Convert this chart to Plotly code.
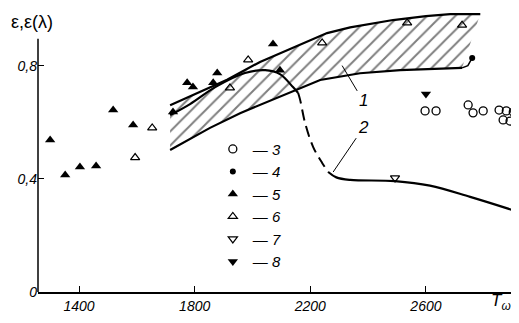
import plotly.graph_objects as go

# ---- data ----
band_up_x = [1715, 1800, 1912, 2026, 2140, 2258, 2338, 2486, 2600, 2684, 2788]
band_up_y = [0.66, 0.70, 0.75, 0.813, 0.863, 0.915, 0.935, 0.961, 0.975, 0.982, 0.982]
band_lo_x = [1715, 1853, 1957, 2095, 2234, 2372, 2511, 2725]
band_lo_y = [0.502, 0.58, 0.632, 0.689, 0.749, 0.773, 0.784, 0.792]
hook_x = [2725, 2745, 2760]
hook_y = [0.792, 0.80, 0.827]

c2a_x = [1715, 1784, 1871, 1974, 2044, 2095, 2140, 2158]
c2a_y = [0.625, 0.664, 0.724, 0.774, 0.784, 0.770, 0.724, 0.703]
c2d_x = [2158, 2165, 2182, 2210, 2241, 2262]
c2d_y = [0.703, 0.678, 0.597, 0.512, 0.456, 0.424]
c2b_x = [2262, 2290, 2338, 2493, 2614, 2753, 2898]
c2b_y = [0.424, 0.405, 0.396, 0.392, 0.376, 0.336, 0.29]

s3_x = [2597, 2635, 2746, 2763, 2798, 2853, 2878, 2902, 2867, 2891]
s3_y = [0.64, 0.64, 0.661, 0.633, 0.64, 0.643, 0.64, 0.636, 0.608, 0.604]
s4_x = [2760]
s4_y = [0.827]
s5_x = [1300, 1352, 1403, 1459, 1518, 1587, 1725, 1774, 1794, 1864, 1878, 2071, 2095]
s5_y = [0.537, 0.413, 0.442, 0.445, 0.643, 0.590, 0.636, 0.739, 0.724, 0.739, 0.774, 0.876, 0.784]
s6_x = [1594, 1653, 1922, 1985, 2241, 2535, 2725]
s6_y = [0.475, 0.580, 0.721, 0.820, 0.880, 0.951, 0.943]
s7_x = [2493]
s7_y = [0.403]
s8_x = [2600]
s8_y = [0.70]

x_ticks = [1400, 1800, 2200, 2600]
y_ticks = [0, 0.4, 0.8]
y_ticktext = ["0", "0,4", "0,8"]

FONT = "Liberation Sans"
fig = go.Figure()

# hatched band (curve 1)
fig.add_trace(go.Scatter(
    x=band_up_x + band_lo_x[::-1], y=band_up_y + band_lo_y[::-1],
    fill="toself", mode="none", fillcolor="rgba(0,0,0,0)",
    fillpattern=dict(shape="/", fgcolor="black", bgcolor="white", size=10, solidity=0.2),
    showlegend=False, hoverinfo="skip"))
line_style = dict(color="black", width=2.2)
fig.add_trace(go.Scatter(x=band_up_x, y=band_up_y, mode="lines", line=line_style, showlegend=False))
fig.add_trace(go.Scatter(x=band_lo_x, y=band_lo_y, mode="lines", line=line_style, showlegend=False))
fig.add_trace(go.Scatter(x=hook_x, y=hook_y, mode="lines", line=dict(color="black", width=1.5), showlegend=False))
# curve 2
fig.add_trace(go.Scatter(x=c2a_x, y=c2a_y, mode="lines", line=line_style, line_shape="spline", showlegend=False))
fig.add_trace(go.Scatter(x=c2d_x, y=c2d_y, mode="lines", line=dict(color="black", width=2, dash="11px,6px"),
                         line_shape="spline", showlegend=False))
fig.add_trace(go.Scatter(x=c2b_x, y=c2b_y, mode="lines", line=line_style, line_shape="spline", showlegend=False))

# point series (legend entries)
series = [
    ("3", s3_x, s3_y, "circle-open", 8, 1.3),
    ("4", s4_x, s4_y, "circle", 6, 0),
    ("5", s5_x, s5_y, "triangle-up", 9, 0),
    ("6", s6_x, s6_y, "triangle-up-open", 8, 1.2),
    ("7", s7_x, s7_y, "triangle-down-open", 8, 1.2),
    ("8", s8_x, s8_y, "triangle-down", 9, 0),
]
for name, xs, ys, sym, sz, lw in series:
    fig.add_trace(go.Scatter(x=xs, y=ys, mode="markers", name="— " + name, legendgroup=name,
                             marker=dict(symbol=sym, size=sz, color="black", line=dict(color="black", width=lw))))

# the page adds an 8px body margin, so the figure is 8px smaller and shifted
fig.update_layout(
    width=511, height=315,
    margin=dict(l=30, r=2, t=1, b=31),
    paper_bgcolor="white", plot_bgcolor="white",
    font=dict(family=FONT, color="black"),
    legend=dict(x=0.365, y=0.563, xanchor="left", yanchor="top", bgcolor="rgba(0,0,0,0)",
                font=dict(size=15, style="italic", family=FONT), tracegroupgap=0,
                itemwidth=30),
    xaxis=dict(range=[1258, 2915], tickvals=x_ticks, ticks="inside", ticklen=6, tickcolor="black",
               showline=True, linecolor="black", linewidth=1.5, showgrid=False, zeroline=False,
               tickfont=dict(size=14, style="italic", family=FONT)),
    yaxis=dict(range=[0, 1.0], tickvals=y_ticks, ticktext=y_ticktext, ticks="inside", ticklen=6,
               tickcolor="black", showline=False, showgrid=False, zeroline=False,
               tickfont=dict(size=14, style="italic", family=FONT)),
    showlegend=True,
)
# y axis line, drawn up to the top of the scale
fig.add_shape(type="line", xref="paper", yref="y", x0=0, x1=0, y0=0, y1=0.895,
              line=dict(color="black", width=1.5))

# curve labels with leader lines
fig.add_annotation(x=2310, y=0.80, ax=2383, ay=0.675, axref="x", ayref="y", text="1",
                   showarrow=True, arrowhead=0, arrowwidth=1, arrowcolor="black",
                   font=dict(size=17, style="italic"))
fig.add_annotation(x=2279, y=0.424, ax=2383, ay=0.58, axref="x", ayref="y", text="2",
                   showarrow=True, arrowhead=0, arrowwidth=1, arrowcolor="black",
                   font=dict(size=17, style="italic"))
# axis titles
fig.add_annotation(xref="x", yref="paper", x=2860, y=-0.035, text="T<sub>ω</sub>", showarrow=False,
                   font=dict(size=17, style="italic"), xanchor="center", yanchor="middle")
fig.add_annotation(xref="paper", yref="paper", x=-0.06, y=0.954, text="ε,ε(λ)", showarrow=False,
                   font=dict(size=18), xanchor="left", yanchor="middle")

fig.write_html("out.html")
